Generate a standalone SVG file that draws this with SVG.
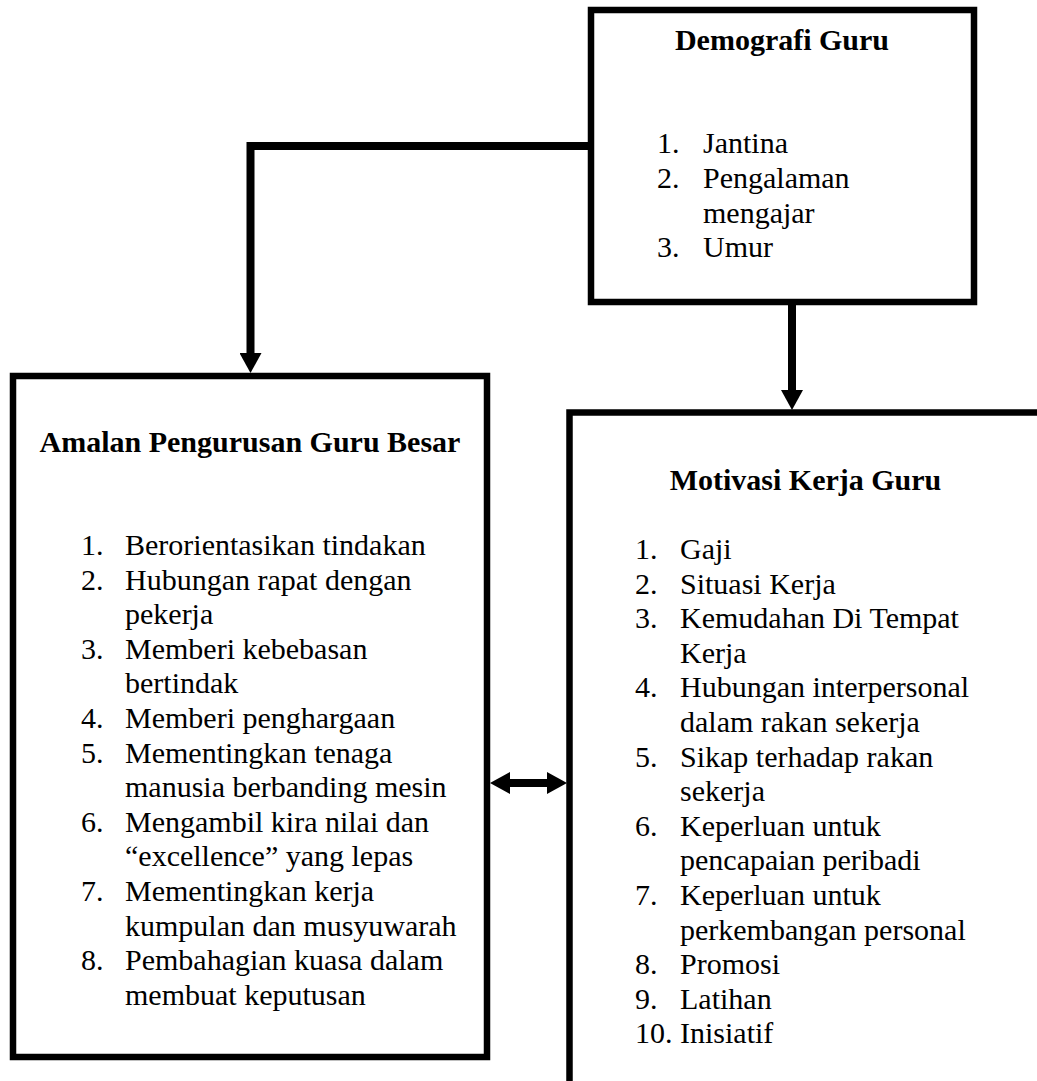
<svg xmlns="http://www.w3.org/2000/svg" width="1037" height="1081" viewBox="0 0 1037 1081">
<style>
.box{fill:#fff;stroke:#000;stroke-width:6.5}
.conn{fill:none;stroke:#000;stroke-width:8;stroke-linejoin:miter}
text{font-family:"Liberation Serif","Times New Roman",serif;font-size:30px;fill:#000}
.t{font-weight:bold;text-anchor:middle}
</style>
<defs>
<marker id="ah" viewBox="0 0 20 22" refX="0" refY="11" markerWidth="20" markerHeight="22" markerUnits="userSpaceOnUse" orient="auto-start-reverse">
<path d="M0,0 L20,11 L0,22 z" fill="#000"/>
</marker>
</defs>
<rect width="1037" height="1081" fill="#fff"/>
<g id="node-demografi">
<rect class="box" x="591" y="10" width="383" height="292"/>
<text class="t" x="782" y="50">Demografi Guru</text>
<text x="657" y="153">1.</text><text x="703" y="153">Jantina</text>
<text x="657" y="188">2.</text><text x="703" y="188">Pengalaman</text>
<text x="703" y="222.5">mengajar</text>
<text x="657" y="257">3.</text><text x="703" y="257">Umur</text>
</g>
<g id="node-amalan">
<rect class="box" x="13" y="376" width="474" height="681"/>
<text class="t" x="250" y="452">Amalan Pengurusan Guru Besar</text>
<text x="81" y="555">1.</text><text x="125" y="555">Berorientasikan tindakan</text>
<text x="81" y="589.6">2.</text><text x="125" y="589.6">Hubungan rapat dengan</text>
<text x="125" y="624.2">pekerja</text>
<text x="81" y="658.8">3.</text><text x="125" y="658.8">Memberi kebebasan</text>
<text x="125" y="693.4">bertindak</text>
<text x="81" y="728">4.</text><text x="125" y="728">Memberi penghargaan</text>
<text x="81" y="762.6">5.</text><text x="125" y="762.6">Mementingkan tenaga</text>
<text x="125" y="797.2">manusia berbanding mesin</text>
<text x="81" y="831.8">6.</text><text x="125" y="831.8">Mengambil kira nilai dan</text>
<text x="125" y="866.4">“excellence” yang lepas</text>
<text x="81" y="901">7.</text><text x="125" y="901">Mementingkan kerja</text>
<text x="125" y="935.6">kumpulan dan musyuwarah</text>
<text x="81" y="970.2">8.</text><text x="125" y="970.2">Pembahagian kuasa dalam</text>
<text x="125" y="1004.8">membuat keputusan</text>
</g>
<g id="node-motivasi">
<rect class="box" x="569.5" y="412.5" width="520" height="720"/>
<text class="t" x="805.5" y="490">Motivasi Kerja Guru</text>
<text x="635" y="559">1.</text><text x="680" y="559">Gaji</text>
<text x="635" y="593.6">2.</text><text x="680" y="593.6">Situasi Kerja</text>
<text x="635" y="628.2">3.</text><text x="680" y="628.2">Kemudahan Di Tempat</text>
<text x="680" y="662.8">Kerja</text>
<text x="635" y="697.4">4.</text><text x="680" y="697.4">Hubungan interpersonal</text>
<text x="680" y="732">dalam rakan sekerja</text>
<text x="635" y="766.6">5.</text><text x="680" y="766.6">Sikap terhadap rakan</text>
<text x="680" y="801.2">sekerja</text>
<text x="635" y="835.8">6.</text><text x="680" y="835.8">Keperluan untuk</text>
<text x="680" y="870.4">pencapaian peribadi</text>
<text x="635" y="905">7.</text><text x="680" y="905">Keperluan untuk</text>
<text x="680" y="939.6">perkembangan personal</text>
<text x="635" y="974.2">8.</text><text x="680" y="974.2">Promosi</text>
<text x="635" y="1008.8">9.</text><text x="680" y="1008.8">Latihan</text>
<text x="635" y="1043.4">10. Inisiatif</text>
</g>
<g id="connectors">
<path class="conn" d="M588 146 H250.5 V353" marker-end="url(#ah)"/>
<path class="conn" d="M792 305 V390" marker-end="url(#ah)"/>
<path class="conn" d="M510 783 H547" marker-start="url(#ah)" marker-end="url(#ah)"/>
</g>
</svg>
